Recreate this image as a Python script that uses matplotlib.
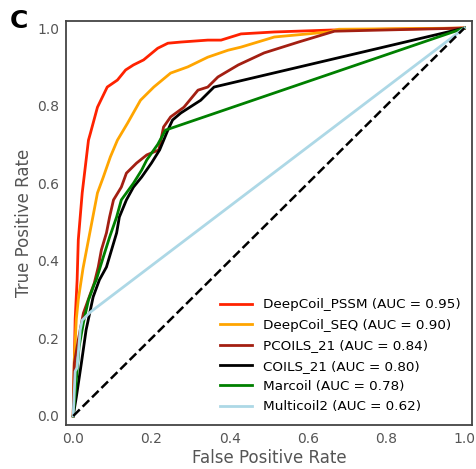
import numpy as np
import matplotlib
matplotlib.use("Agg")
import matplotlib.pyplot as plt

plt.rcParams['font.family'] = ['DejaVu Sans']

# ROC points (fpr, tpr)
pssm_fpr = [0.0, 0.002, 0.005, 0.010, 0.013, 0.023, 0.039, 0.044, 0.062, 0.087, 0.113, 0.134, 0.154,
            0.180, 0.216, 0.242, 0.275, 0.344, 0.378, 0.429, 0.514, 0.660, 1.0]
pssm_tpr = [0.0, 0.10, 0.25, 0.35, 0.454, 0.575, 0.711, 0.729, 0.796, 0.848, 0.866, 0.892, 0.905,
            0.918, 0.948, 0.961, 0.964, 0.969, 0.969, 0.985, 0.990, 0.995, 1.0]

seq_fpr = [0.0, 0.003, 0.008, 0.013, 0.025, 0.039, 0.062, 0.077, 0.095, 0.113, 0.139, 0.172, 0.206,
           0.249, 0.293, 0.344, 0.396, 0.429, 0.488, 0.514, 0.653, 0.679, 1.0]
seq_tpr = [0.0, 0.15, 0.25, 0.30, 0.38, 0.454, 0.575, 0.616, 0.668, 0.711, 0.755, 0.814, 0.848,
           0.884, 0.900, 0.925, 0.943, 0.951, 0.969, 0.977, 0.990, 0.997, 1.0]

pcoils_fpr = [0.0, 0.003, 0.013, 0.026, 0.041, 0.054, 0.064, 0.072, 0.085, 0.093, 0.103, 0.123, 0.136,
              0.162, 0.188, 0.219, 0.231, 0.249, 0.283, 0.319, 0.344, 0.370, 0.422, 0.488, 0.576, 0.668, 1.0]
pcoils_tpr = [0.0, 0.137, 0.196, 0.265, 0.307, 0.343, 0.384, 0.428, 0.472, 0.513, 0.557, 0.590, 0.626,
              0.652, 0.673, 0.686, 0.745, 0.771, 0.796, 0.840, 0.848, 0.874, 0.905, 0.936, 0.964, 0.992, 1.0]

coils_fpr = [0.0, 0.008, 0.021, 0.033, 0.051, 0.067, 0.085, 0.098, 0.111, 0.118, 0.136, 0.154, 0.175,
             0.200, 0.221, 0.242, 0.254, 0.275, 0.326, 0.360, 1.0]
coils_tpr = [0.0, 0.049, 0.137, 0.222, 0.307, 0.351, 0.384, 0.428, 0.472, 0.513, 0.557, 0.590, 0.616,
             0.652, 0.686, 0.737, 0.763, 0.781, 0.814, 0.848, 1.0]

marcoil_fpr = [0.0, 0.008, 0.015, 0.026, 0.039, 0.054, 0.059, 0.077, 0.093, 0.111, 0.123, 0.154,
               0.175, 0.188, 0.216, 0.236, 1.0]
marcoil_tpr = [0.0, 0.093, 0.178, 0.240, 0.299, 0.340, 0.351, 0.410, 0.461, 0.513, 0.557, 0.600,
               0.634, 0.660, 0.700, 0.737, 1.0]

multi_fpr = [0.0, 0.005, 0.010, 0.018, 0.023, 0.044, 1.0]
multi_tpr = [0.0, 0.115, 0.125, 0.222, 0.247, 0.268, 1.0]

labels = ["DeepCoil_PSSM (AUC = 0.95)", "DeepCoil_SEQ (AUC = 0.90)", "PCOILS_21 (AUC = 0.84)",
          "COILS_21 (AUC = 0.80)", "Marcoil (AUC = 0.78)", "Multicoil2 (AUC = 0.62)"]
colors = ["#ff2200", "orange", "#a31f12", "black", "green", "lightblue"]
curves = [(pssm_fpr, pssm_tpr), (seq_fpr, seq_tpr), (pcoils_fpr, pcoils_tpr),
          (coils_fpr, coils_tpr), (marcoil_fpr, marcoil_tpr), (multi_fpr, multi_tpr)]

fig = plt.figure(figsize=(4.76, 4.69), dpi=100)
ax = fig.add_axes([0.139, 0.094, 0.853, 0.861])

for (fx, ty), c, lab in zip(curves, colors, labels):
    ax.plot(fx, ty, color=c, lw=2, label=lab)
ax.plot([0, 1], [0, 1], color="black", lw=1.8, ls="--")

ax.set_xlim(-0.018, 1.02)
ax.set_ylim(-0.023, 1.018)
ax.set_xticks(np.arange(0, 1.01, 0.2))
ax.set_yticks(np.arange(0, 1.01, 0.2))
ax.tick_params(length=0, labelsize=10, labelcolor="#555555", pad=5)
for s in ax.spines.values():
    s.set_color("#444444")
    s.set_linewidth(1.3)
ax.set_xlabel("False Positive Rate", fontsize=12, color="#555555", labelpad=2)
ax.set_ylabel("True Positive Rate", fontsize=12, color="#555555", labelpad=3)

ax.legend(loc="lower right", frameon=False, fontsize=9.7, handlelength=2.4,
          labelspacing=0.55, borderaxespad=0.45, handletextpad=0.8)

fig.text(0.021, 0.94, "C", fontsize=18, fontweight="bold")

fig.savefig("out.png", dpi=100)
